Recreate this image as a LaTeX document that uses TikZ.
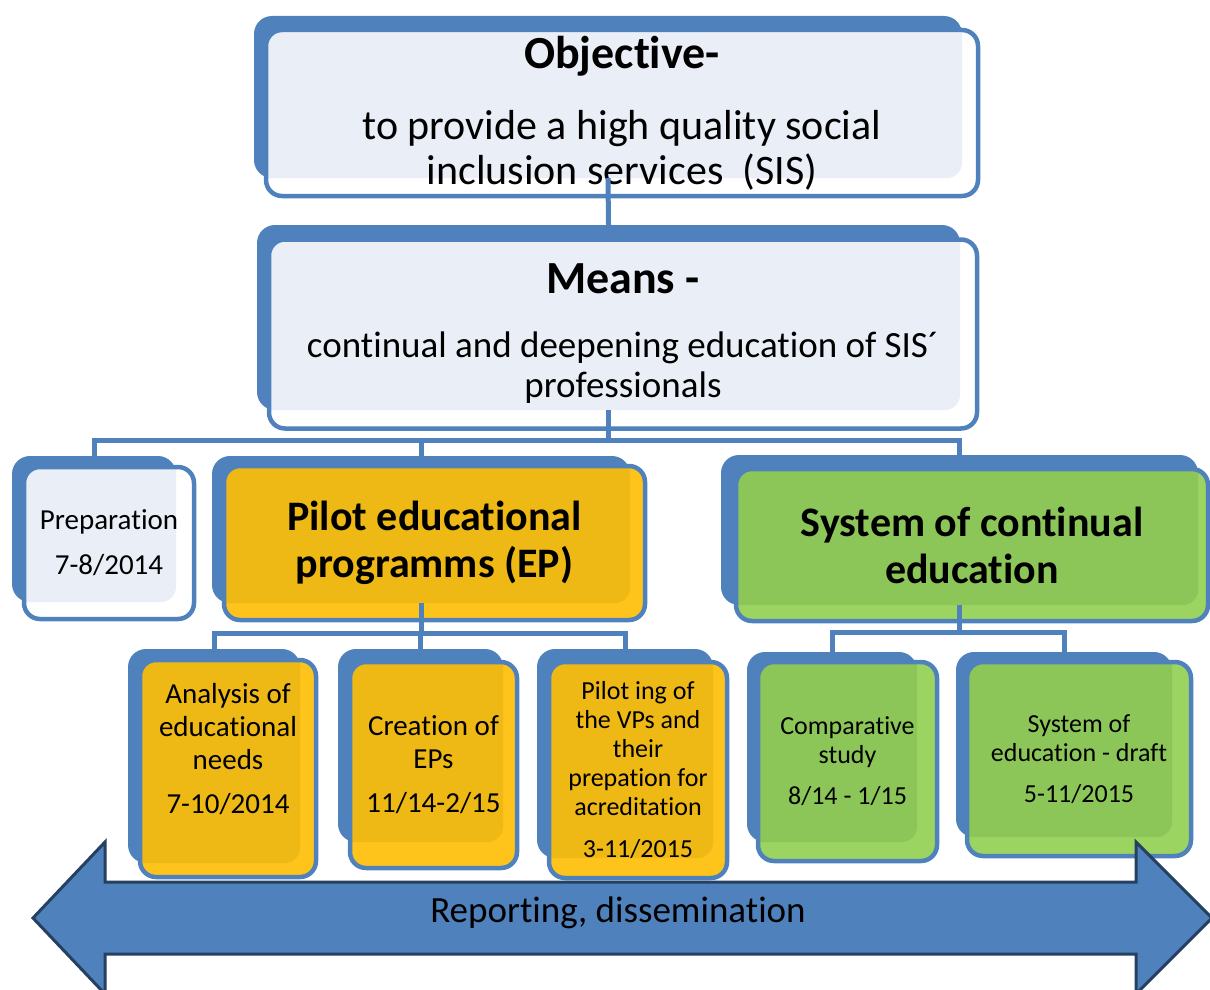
\documentclass[tikz,border=0pt]{standalone}
\usepackage{fontspec}
\setmainfont{Carlito}[RawFeature={-liga,-clig}]
\usepackage{xcolor}
\usepackage{tikz}

\definecolor{boxblue}{HTML}{4F81BD}
\definecolor{bluein}{HTML}{EAEFF7}
\definecolor{yellowin}{HTML}{EEB815}
\definecolor{yellowout}{HTML}{FFC41C}
\definecolor{greenin}{HTML}{8CC659}
\definecolor{greenout}{HTML}{9CD461}
\definecolor{arrowline}{HTML}{254061}

\begin{document}
\begin{tikzpicture}[x=1pt, y=-1pt,
  back/.style={fill=boxblue, rounded corners=18pt, inner sep=0pt},
  front/.style={draw=boxblue, line width=4.5pt, rounded corners=16pt, inner sep=0pt, align=center},
  bluebox/.style={front, fill=white, path picture={\fill[bluein, rounded corners=16pt] (#1.north west) rectangle (#1.south east);}},
  ybox/.style={front, fill=yellowout, path picture={\fill[yellowin, rounded corners=16pt] (#1.north west) rectangle (#1.south east);}},
  gbox/.style={front, fill=greenout, path picture={\fill[greenin, rounded corners=16pt] (#1.north west) rectangle (#1.south east);}},
  link/.style={draw=boxblue, line width=5pt},
  big/.style={font=\fontsize{42}{47}\selectfont\bfseries},
  small/.style={font=\fontsize{29}{33}\selectfont},
  tiny/.style={font=\fontsize{26}{29}\selectfont}
]
\useasboundingbox (0,0) rectangle (1210,990);

\node[back, minimum width=708pt, minimum height=162pt] (objb) at (608,97) {};
\node[bluebox=objb, minimum width=712pt, minimum height=166pt, font=\fontsize{42}{45}\selectfont] (obj) at (622,113)
  {{\fontsize{46}{48}\selectfont\bfseries Objective-}\\[26pt] to provide a high quality social\\ inclusion services\ \ (SIS)};

\node[back, minimum width=703pt, minimum height=185pt] (meansb) at (608.5,317.5) {};
\node[bluebox=meansb, minimum width=708pt, minimum height=189pt, font=\fontsize{37}{40}\selectfont] (means) at (623,334)
  {{\fontsize{46}{48}\selectfont\bfseries Means -}\\[24pt] continual and deepening education of SIS´\\ professionals};

\node[back, minimum width=164pt, minimum height=146pt] (prepb) at (94,529) {};
\node[bluebox=prepb, minimum width=170pt, minimum height=152pt, font=\fontsize{29}{35}\selectfont] (prep) at (109,543)
  {Preparation\\[10pt] 7-8/2014};

\node[back, minimum width=418pt, minimum height=147pt] (epb) at (421,529.5) {};
\node[ybox=epb, big, minimum width=421pt, minimum height=154pt] (ep) at (434.5,543)
  {Pilot educational\\ programms (EP)};

\node[back, minimum width=477pt, minimum height=150pt] (sysb) at (959.5,530) {};
\node[gbox=sysb, big, minimum width=472pt, minimum height=152pt] (sys) at (972,545)
  {System of continual\\ education};

\node[back, minimum width=172pt, minimum height=214pt] (anab) at (214,756) {};
\node[ybox=anab, small, minimum width=176pt, minimum height=217pt] (ana) at (228,768.5)
  {Analysis of\\ educational\\ needs\\[11pt] 7-10/2014\\[8pt] \mbox{}};

\node[back, minimum width=165pt, minimum height=193pt] (creb) at (420.5,745.5) {};
\node[ybox=creb, small, minimum width=167pt, minimum height=206pt] (cre) at (433.5,765)
  {Creation of\\ EPs\\[11pt] 11/14-2/15};

\node[back, minimum width=176pt, minimum height=209pt] (pilb) at (625,753.5) {};
\node[ybox=pilb, tiny, minimum width=178pt, minimum height=216pt] (pil) at (638,770)
  {Pilot ing of\\ the VPs and\\ their\\ prepation for\\ acreditation\\[13pt] 3-11/2015};

\node[back, minimum width=170pt, minimum height=190pt] (comb) at (832,747) {};
\node[gbox=comb, tiny, minimum width=179pt, minimum height=199pt] (com) at (847.5,761.5)
  {Comparative\\ study\\[12pt] 8/14 - 1/15};

\node[back, minimum width=216pt, minimum height=185pt] (drab) at (1064,744.5) {};
\node[gbox=drab, tiny, minimum width=224pt, minimum height=194pt] (dra) at (1079,759)
  {System of\\ education - draft\\[12pt] 5-11/2015};

\draw[link] (objb.south) -- (meansb.north);
\draw[link] (meansb.south) -- ++(0,30) coordinate (bus1);
\draw[link] (prepb.north) |- (bus1) -| (sysb.north);
\draw[link] (epb.north) -- (epb.north |- bus1);
\draw[link] (epb.south) -- ++(0,30) coordinate (bus2);
\draw[link] (anab.north) |- (bus2) -| (pilb.north);
\draw[link] (creb.north) -- (creb.north |- bus2);
\draw[link] (sysb.south) -- ++(0,27) coordinate (bus3);
\draw[link] (comb.north) |- (bus3) -| (drab.north);

\draw[fill=boxblue, draw=arrowline, line width=3pt]
  (33,918) -- (105,842) -- (105,882) -- (1136,882) -- (1136,842) -- (1212,918)
  -- (1136,994) -- (1136,954) -- (105,954) -- (105,994) -- cycle;
\node[font=\fontsize{37}{40}\selectfont] (rep) at (618,913) {Reporting, dissemination};
\end{tikzpicture}
\end{document}
